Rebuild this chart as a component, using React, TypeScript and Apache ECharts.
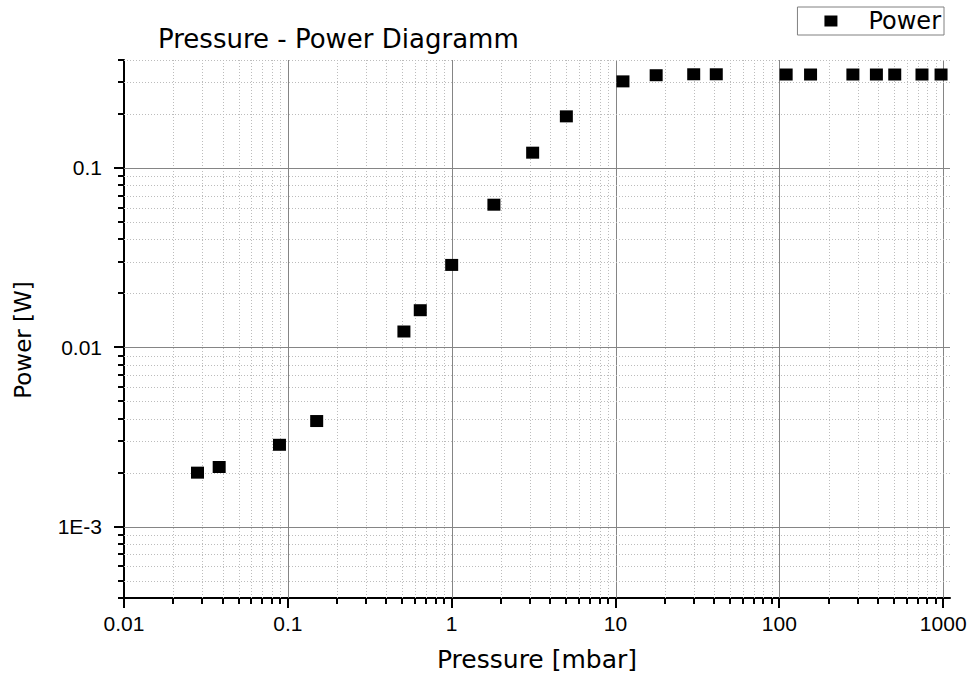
import React, { useEffect, useRef } from "react";
import * as echarts from "echarts";

// Data
const PRESSURE = [0.0281, 0.0381, 0.0889, 0.150, 0.511, 0.643, 1.0, 1.81, 3.12, 5.01, 11.1, 17.7, 30.0, 41.2, 110, 155, 281, 391, 506, 742, 970];
const POWER = [0.00200, 0.00215, 0.00286, 0.00388, 0.01225, 0.0161, 0.0288, 0.0624, 0.1217, 0.194, 0.304, 0.329, 0.333, 0.333, 0.332, 0.332, 0.332, 0.332, 0.332, 0.332, 0.332];

const X_MIN = 0.01;
const X_MAX = 1100;
const Y_MIN = 0.0004;
const Y_MAX = 0.4;
const X_DECADES = [-2, -1, 0, 1, 2, 3];
const Y_DECADES = [-4, -3, -2, -1];
const MINOR_STEPS = [2, 3, 4, 5, 6, 7, 8, 9];

const TITLE = "Pressure - Power Diagramm";
const X_NAME = "Pressure [mbar]";
const Y_NAME = "Power [W]";
const SERIES_NAME = "Power";

function gridValues(decades: number[], lo: number, hi: number) {
  const out: number[][] = [];
  decades.forEach((e) => {
    const base = Math.pow(10, e);
    if (base >= lo * 0.999 && base <= hi * 1.001) out.push([base, 1]);
    MINOR_STEPS.forEach((k) => {
      const v = k * base;
      if (v >= lo * 0.999 && v <= hi * 1.001) out.push([v, 0]);
    });
  });
  return out;
}

const X_LINES = gridValues(X_DECADES, X_MIN, X_MAX);
const Y_LINES = gridValues(Y_DECADES, Y_MIN, Y_MAX);

const expOf = (v: number) => Math.round(Math.log10(v));
const xLabel = (v: number) => {
  const e = expOf(v);
  return e < 0 ? Math.pow(10, e).toFixed(-e) : String(Math.pow(10, e));
};
const yLabel = (v: number) => {
  const e = expOf(v);
  if (e <= -3) return "1E" + e;
  return e < 0 ? Math.pow(10, e).toFixed(-e) : String(Math.pow(10, e));
};

const MAJOR_GRID = "#858585";
const MINOR_GRID = "#bcbcbc";

export default function App() {
  const ref = useRef<HTMLDivElement>(null);
  useEffect(() => {
    if (!ref.current) return;
    const chart = echarts.init(ref.current, undefined, { renderer: "svg" });
    const option: any = {
      animation: false,
      backgroundColor: "#ffffff",
      title: {
        text: TITLE,
        left: 153,
        top: 21,
        textStyle: { fontFamily: "DejaVu Sans", fontSize: 26, fontWeight: "normal", color: "#000" },
      },
      legend: {
        data: [SERIES_NAME],
        right: 29,
        top: 7,
        icon: "rect",
        itemWidth: 13,
        itemHeight: 11,
        borderColor: "#808080",
        borderWidth: 1,
        padding: [2, 3, 2, 27],
        textStyle: { fontFamily: "DejaVu Sans", fontSize: 24, color: "#000", padding: [0, 0, 0, 26] },
        itemStyle: { color: "#000", opacity: 1 },
      },
      grid: { left: 124, right: 23, top: 60, bottom: 81, containLabel: false },
      xAxis: {
        type: "log",
        logBase: 10,
        min: X_MIN,
        max: X_MAX,
        name: X_NAME,
        nameLocation: "middle",
        nameGap: 49,
        nameTextStyle: { fontFamily: "DejaVu Sans", fontSize: 25, color: "#000" },
        axisLine: { show: true, lineStyle: { color: "#000", width: 2 } },
        axisTick: { show: false },
        splitLine: { show: false },
        minorTick: { show: false },
        axisLabel: {
          showMinLabel: true,
          showMaxLabel: false,
          margin: 15,
          fontFamily: "Liberation Sans",
          fontSize: 21,
          color: "#000",
          formatter: xLabel,
        },
      },
      yAxis: {
        type: "log",
        logBase: 10,
        min: Y_MIN,
        max: Y_MAX,
        name: Y_NAME,
        nameLocation: "middle",
        nameGap: 90,
        nameRotate: 90,
        nameTextStyle: { fontFamily: "DejaVu Sans", fontSize: 23, color: "#000", padding: [0, 22, 0, 0] },
        axisLine: { show: true, lineStyle: { color: "#000", width: 2 } },
        axisTick: { show: false },
        splitLine: { show: false },
        minorTick: { show: false },
        axisLabel: {
          showMinLabel: false,
          showMaxLabel: false,
          margin: 22,
          fontFamily: "Liberation Sans",
          fontSize: 21,
          color: "#000",
          formatter: yLabel,
        },
      },
      series: [
        {
          type: "custom",
          name: "xgrid",
          silent: true,
          clip: false,
          z: 1,
          encode: { x: 0, y: 1 },
          data: X_LINES.map((d) => [d[0], Y_MIN, d[1]]),
          renderItem: (_p: any, api: any) => {
            const v = api.value(0);
            const major = api.value(2) === 1;
            const b = api.coord([v, Y_MIN]);
            const t = api.coord([v, Y_MAX]);
            const x = Math.round(b[0]) + 0.5;
            const children: any[] = [];
            if (Math.abs(v - X_MIN) > 1e-9) {
              children.push({
                type: "line",
                shape: { x1: x, y1: t[1], x2: x, y2: b[1] },
                style: major
                  ? { stroke: MAJOR_GRID, lineWidth: 1 }
                  : { stroke: MINOR_GRID, lineWidth: 1, lineDash: [1, 2] },
              });
            }
            children.push({
              type: "line",
              shape: { x1: x - 0.5, y1: b[1], x2: x - 0.5, y2: b[1] + (major ? 10 : 6) },
              style: { stroke: "#000", lineWidth: 2 },
            });
            return { type: "group", children };
          },
        },
        {
          type: "custom",
          name: "ygrid",
          silent: true,
          clip: false,
          z: 1,
          encode: { x: 0, y: 1 },
          data: Y_LINES.map((d) => [X_MIN, d[0], d[1]]),
          renderItem: (_p: any, api: any) => {
            const v = api.value(1);
            const major = api.value(2) === 1;
            const l = api.coord([X_MIN, v]);
            const r = api.coord([X_MAX, v]);
            const y = Math.round(l[1]) + 0.5;
            const children: any[] = [];
            if (Math.abs(v - Y_MIN) > 1e-12) {
              children.push({
                type: "line",
                shape: { x1: l[0], y1: y, x2: r[0], y2: y },
                style: major
                  ? { stroke: MAJOR_GRID, lineWidth: 1 }
                  : { stroke: MINOR_GRID, lineWidth: 1, lineDash: [1, 2] },
              });
            }
            children.push({
              type: "line",
              shape: { x1: l[0], y1: y - 0.5, x2: l[0] - (major ? 10 : 6), y2: y - 0.5 },
              style: { stroke: "#000", lineWidth: 2 },
            });
            return { type: "group", children };
          },
        },
        {
          type: "scatter",
          name: SERIES_NAME,
          z: 3,
          symbol: "rect",
          symbolSize: [13, 12],
          itemStyle: { color: "#000", opacity: 1 },
          data: PRESSURE.map((p, i) => [p, POWER[i]]),
        },
      ],
    };
    chart.setOption(option);
    return () => chart.dispose();
  }, []);
  return (
    <div
      ref={ref}
      style={{ position: "absolute", left: 0, top: 0, width: 973, height: 679 }}
    />
  );
}
